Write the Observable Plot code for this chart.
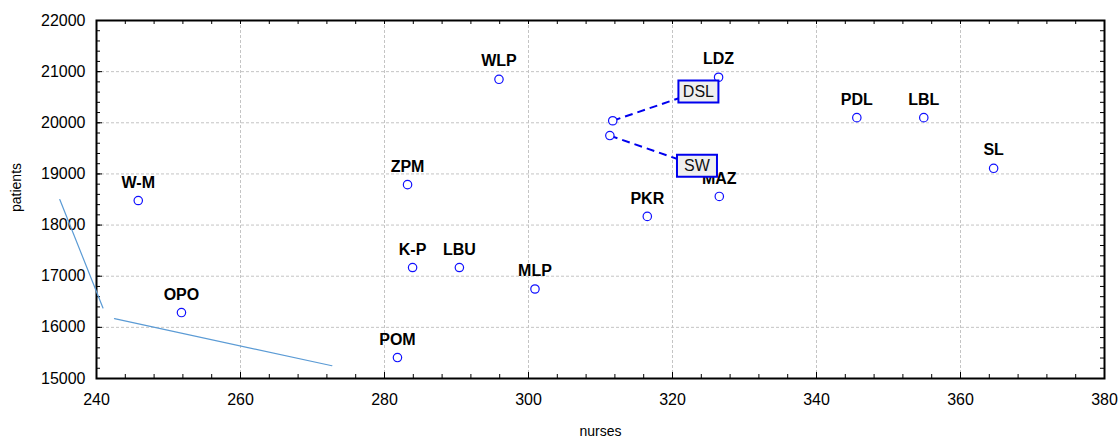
<!DOCTYPE html>
<html><head><meta charset="utf-8">
<script src="https://cdn.jsdelivr.net/npm/d3@7"></script>
<script src="https://cdn.jsdelivr.net/npm/@observablehq/plot@0.6"></script>
<style>body{margin:0;background:#fff;font-family:"Liberation Sans",Arial,sans-serif}</style>
</head><body><div id="chart"></div><script>
// Regions (labelled points)
const codes    = ["W-M","OPO","POM","ZPM","K-P","LBU","MLP","WLP","PKR","LDZ","MAZ","PDL","LBL","SL"];
const nurses   = [245.8,251.8,281.8,283.2,283.9,290.4,300.9,295.9,316.5,326.4,326.5,345.6,354.9,364.6];
const patients = [18480,16290,15410,18790,17170,17170,16750,20850,18170,20890,18560,20100,20100,19110];

// Callout points (boxed labels with dashed leaders)
const calloutCodes    = ["DSL","SW"];
const calloutNurses   = [311.7,311.3];
const calloutPatients = [20040,19750];
const calloutLabelX   = [323.6,323.4];
const calloutLabelY   = [20610,19160];

// Stray light-blue segments
const segA = [[234.9,18500],[240.9,16380]];
const segB = [[242.5,16170],[272.7,15250]];

// Ticks
const xTicks = [240,260,280,300,320,340,360,380];
const yTicks = [15000,16000,17000,18000,19000,20000,21000,22000];
const xMinor = d3.range(240,381,4);
const yMinor = d3.range(15000,22001,200);

const points = codes.map((c,i)=>({code:c,x:nurses[i],y:patients[i]}));
const callouts = calloutCodes.map((c,i)=>({code:c,x:calloutNurses[i],y:calloutPatients[i],lx:calloutLabelX[i],ly:calloutLabelY[i]}));
const segs = [...segA.map(d=>({s:"a",x:d[0],y:d[1]})),...segB.map(d=>({s:"b",x:d[0],y:d[1]}))];

const W=1120,H=441,mL=96,mR=16,mT=20,mB=63;
const pw=W-mL-mR, ph=H-mT-mB;
const boxSym = {draw(ctx){ctx.rect(-20,-11,40,22);}};
const blue="#1010ff";

const chart = Plot.plot({
  width:W,height:H,marginLeft:mL,marginRight:mR,marginTop:mT,marginBottom:mB,
  style:{fontFamily:"Liberation Sans, Arial, sans-serif",fontSize:"15px",background:"#fff",color:"#000"},
  x:{domain:[240,380]},
  y:{domain:[15000,22000]},
  marks:[
    Plot.gridX(xTicks.slice(1,-1),{stroke:"#c4c4c4",strokeOpacity:1,strokeDasharray:"3,2"}),
    Plot.gridY(yTicks.slice(1,-1),{stroke:"#c4c4c4",strokeOpacity:1,strokeDasharray:"3,2"}),
    // inward ticks
    Plot.tickX(xMinor,{x:d=>d,insetTop:ph-4,stroke:"#000"}),
    Plot.tickX(xTicks,{x:d=>d,insetTop:ph-6,stroke:"#000"}),
    Plot.tickX(xMinor,{x:d=>d,insetBottom:ph-4,stroke:"#000"}),
    Plot.tickY(yMinor,{y:d=>d,insetRight:pw-4,stroke:"#000"}),
    Plot.tickY(yTicks,{y:d=>d,insetRight:pw-6,stroke:"#000"}),
    Plot.tickY(yMinor,{y:d=>d,insetLeft:pw-4,stroke:"#000"}),
    Plot.frame({stroke:"#000",strokeWidth:2}),
    Plot.axisX(xTicks,{tickSize:0,tickPadding:15,fontSize:16,label:null,tickFormat:d=>String(d)}),
    Plot.axisY(yTicks,{tickSize:0,tickPadding:11,fontSize:16,label:null,tickFormat:d=>String(d)}),
    Plot.text(["nurses"],{frameAnchor:"bottom",dy:53,lineAnchor:"middle",textAnchor:"middle",fontSize:14,fill:"#000"}),
    Plot.text(["patients"],{frameAnchor:"left",dx:-80,dy:-12,rotate:-90,textAnchor:"middle",lineAnchor:"middle",fontSize:14,fill:"#000"}),
    // stray segments
    Plot.line(segs,{x:"x",y:"y",z:"s",stroke:"#5b9bd5",strokeWidth:1.2,clip:false}),
    // points + labels
    Plot.dot(points,{x:"x",y:"y",r:4.2,stroke:blue,strokeWidth:1.2,fill:"none"}),
    Plot.text(points,{x:"x",y:"y",text:"code",dy:-18,fontSize:16,fontWeight:"bold",fill:"#000"}),
    // callouts
    Plot.link(callouts,{x1:"x",y1:"y",x2:"lx",y2:"ly",stroke:"#0000ee",strokeWidth:2,strokeDasharray:"8,5"}),
    Plot.dot(callouts,{x:"x",y:"y",r:4.2,stroke:blue,strokeWidth:1.2,fill:"#fff"}),
    Plot.dot(callouts,{x:"lx",y:"ly",symbol:boxSym,fill:"#efefef",stroke:"#0000ee",strokeWidth:2}),
    Plot.text(callouts,{x:"lx",y:"ly",text:"code",fontSize:16,fill:"#111"})
  ]
});
document.getElementById("chart").appendChild(chart);
</script></body></html>
